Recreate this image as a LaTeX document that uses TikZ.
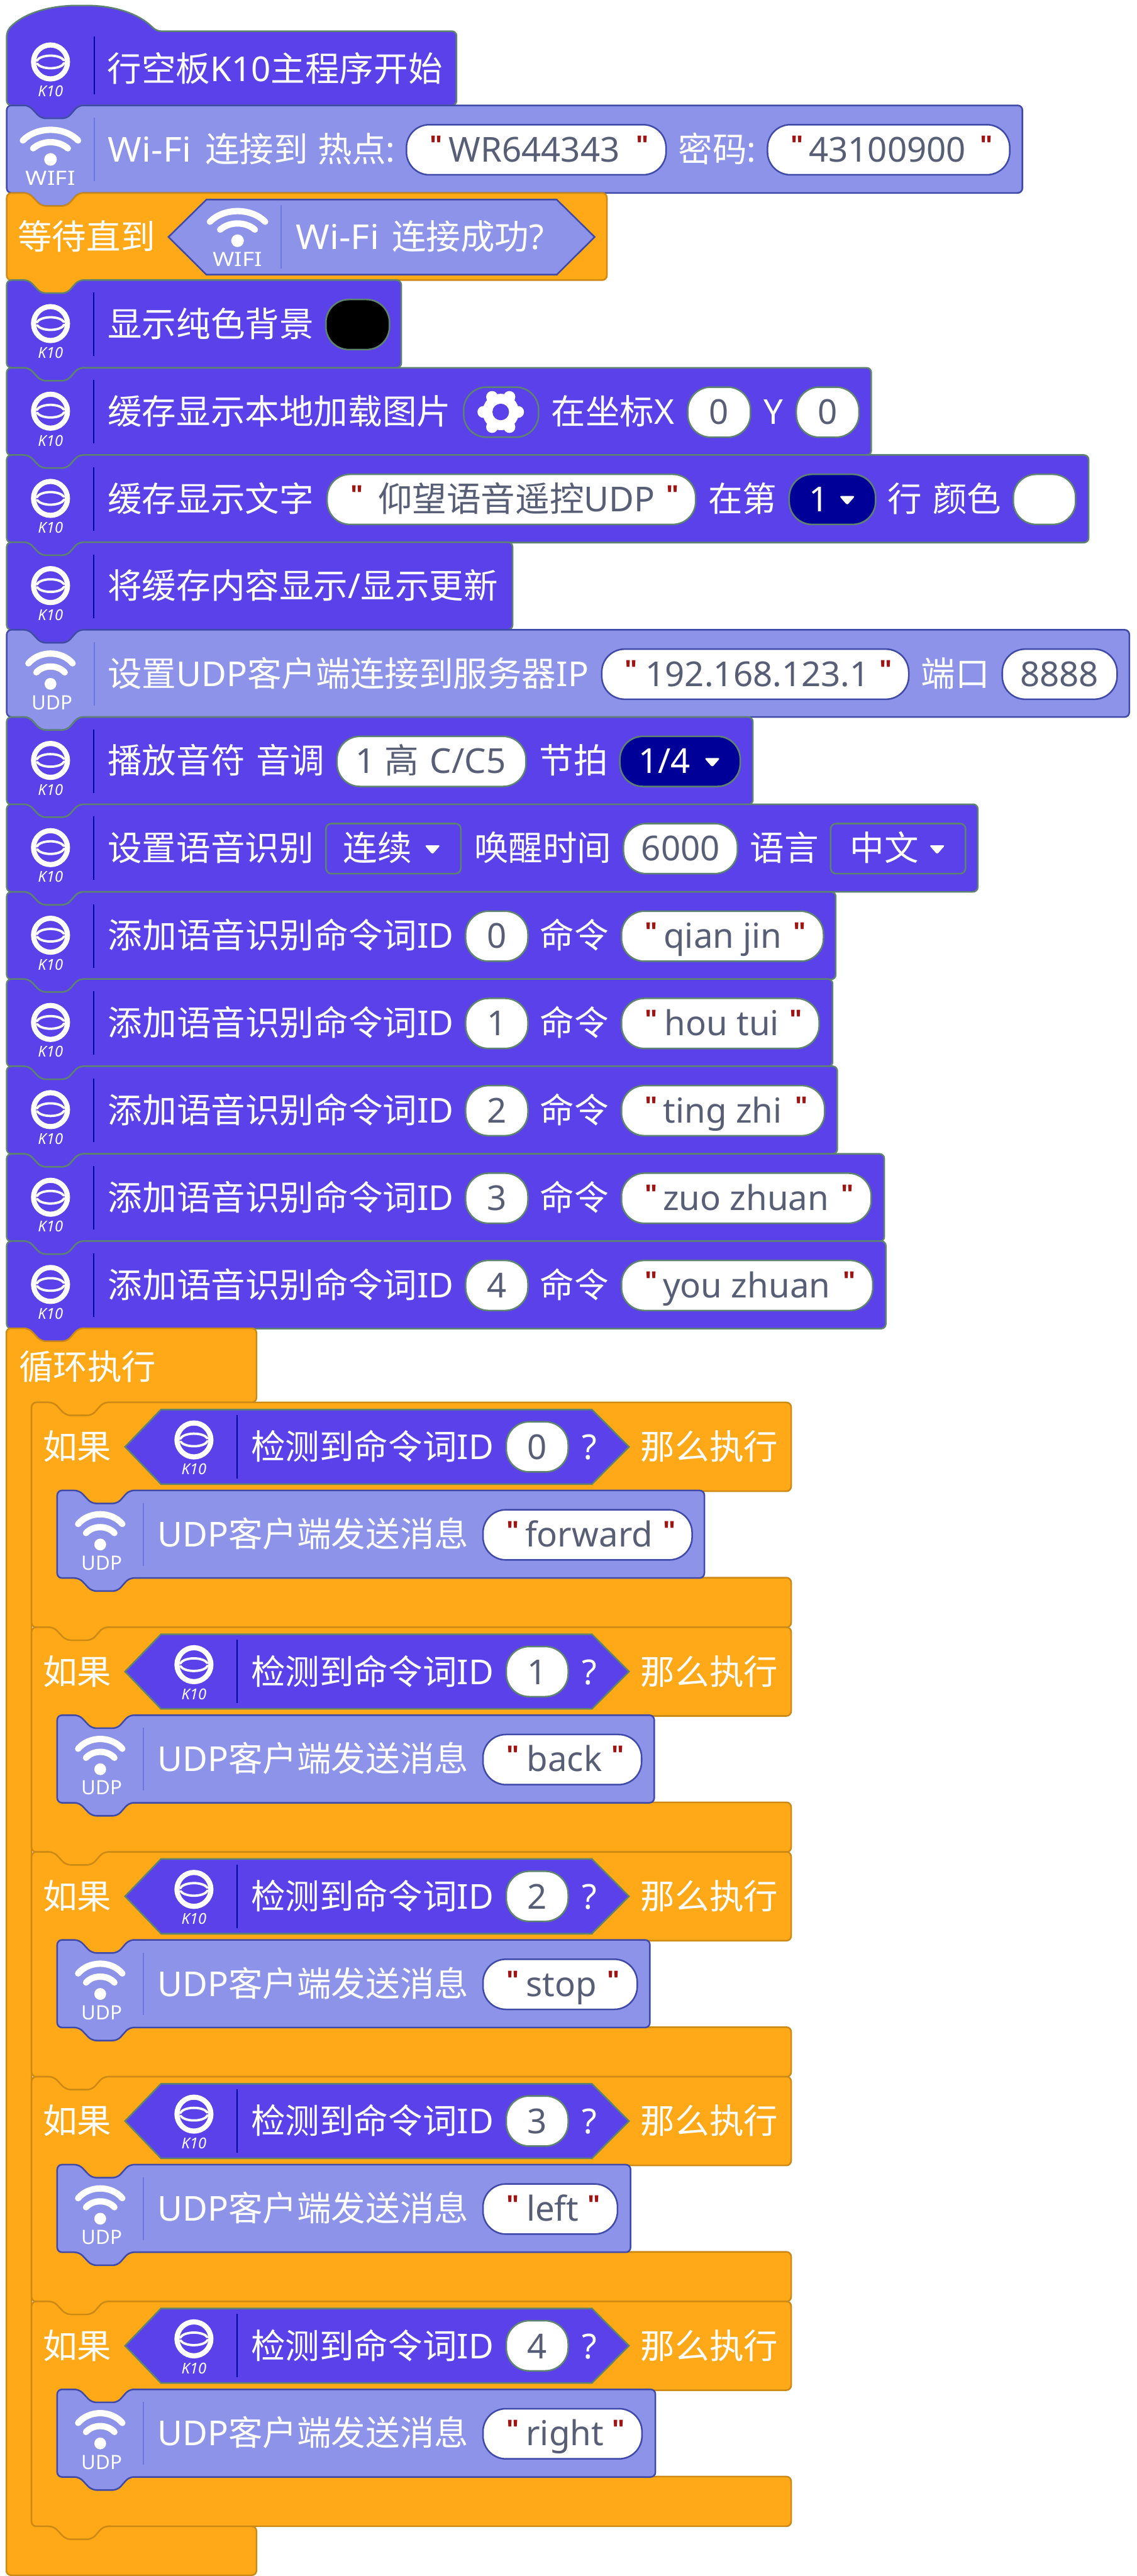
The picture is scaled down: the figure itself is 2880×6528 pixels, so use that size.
\documentclass[tikz,border=0pt]{standalone}
\usepackage{graphicx}
\usepackage{fontspec}
\setmainfont{Noto Sans}
\newfontfamily\cjkf{Noto Sans CJK SC}
\newfontfamily\qfnt{Liberation Sans}
\definecolor{kfill}{HTML}{5B41EA}
\definecolor{kline}{HTML}{5E8470}
\definecolor{ksep}{HTML}{0000A0}
\definecolor{wfill}{HTML}{8C93E8}
\definecolor{wline}{HTML}{3F4AA8}
\definecolor{wsep}{HTML}{6A78E0}
\definecolor{ofill}{HTML}{FFA918}
\definecolor{oline}{HTML}{CC8A14}
\definecolor{navy}{HTML}{000099}
\definecolor{qred}{HTML}{A01414}
\definecolor{vtext}{HTML}{575E75}
\newcommand\bfnt{\fontsize{21.75}{26}\selectfont}
\newcommand\C[1]{{\cjkf #1}}
\newcounter{nn}
\tikzset{
 kblk/.style={draw=kline,fill=kfill,line width=1pt,rounded corners=3pt},
 wblk/.style={draw=wline,fill=wfill,line width=1pt,rounded corners=3pt},
 oblk/.style={draw=oline,fill=ofill,line width=1pt,rounded corners=3pt},
 kfld/.style={draw=kline,fill=white,line width=1pt,rounded corners=14.5pt},
 wfld/.style={draw=wline,fill=white,line width=1pt,rounded corners=14.5pt},
 navyfld/.style={draw=kline,fill=navy,line width=1pt,rounded corners=14.5pt},
 blackfld/.style={draw=kline,fill=black,line width=1pt,rounded corners=14.5pt},
 plainfld/.style={draw=kline,fill=kfill,line width=1pt,rounded corners=14.5pt},
 menufld/.style={draw=kline,fill=kfill,line width=1pt,rounded corners=3.5pt},
 khex/.style={draw=kline,fill=kfill,line width=1pt},
 whex/.style={draw=wline,fill=wfill,line width=1pt},
 txt/.style={anchor=base west,inner sep=0pt,outer sep=0pt,font=\bfnt},
 ctxt/.style={anchor=base,inner sep=0pt,outer sep=0pt,font=\bfnt},
}
\newcommand\tx[4][white]{\stepcounter{nn}\node[txt,text=#1] (n\arabic{nn}) at (#2-1,#3) {#4};}
\newcommand\cx[4][vtext]{\stepcounter{nn}\node[ctxt,text=#1] (n\arabic{nn}) at (#2,#3) {#4};}
\newcommand\qt[2]{\stepcounter{nn}\node[anchor=base west,inner sep=0pt,text=qred,font=\fontsize{17}{20}\selectfont\qfnt\bfseries] (n\arabic{nn}) at (#1-2,#2-18) {"};}
\newcommand\blk[5]{\draw[#5] (#1,#2+60) -- (#1,#2) -- (#1+56,#2) -- (#1+87,#2+33) -- (#1+153,#2+33) -- (#1+182,#2) -- (#3,#2) -- (#3,#4) -- (#1+182,#4) -- (#1+153,#4+33) -- (#1+87,#4+33) -- (#1+56,#4) -- (#1,#4) -- cycle;}
\newcommand\fld[4]{\draw[#4] (#1,#3+49) rectangle (#2,#3+176);}
\newcommand\sepl[4]{\draw[#4,line width=.75pt] (#1,#2) -- (#1,#3);}
\newcommand\kten[2]{%
 \draw[white,line width=3.25pt] (#1,#2+110) circle [radius=43];
 \draw[white,line width=1.5pt,line cap=round] plot[smooth,domain=15:170,samples=8] ({#1+35*cos(\x)},{#2+110-16*sin(\x)});
 \draw[white,line width=1.5pt,line cap=round] plot[smooth,domain=195:350,samples=8] ({#1+35*cos(\x)},{#2+110-16*sin(\x)});
 \stepcounter{nn}\node[ctxt,text=white,font=\fontsize{9.5}{10}\selectfont\bfseries\itshape] (n\arabic{nn}) at (#1,#2+198) {K10};}
\newcommand\wifi[2]{%
 \fill[white] (#1,#2+137) circle [radius=16];
 \draw[white,line width=4pt,line cap=round] (#1-70,#2+89) .. controls (#1-35,#2+53) and (#1+35,#2+53) .. (#1+70,#2+89);
 \draw[white,line width=4pt,line cap=round] (#1-44,#2+109) .. controls (#1-20,#2+88) and (#1+20,#2+88) .. (#1+44,#2+109);
 \stepcounter{nn}\node[ctxt,text=white,font=\fontsize{12.5}{14}\selectfont\bfseries] (n\arabic{nn}) at (#1,#2+202) {\scalebox{1.18}[1]{WIFI}};}
\newcommand\udp[2]{%
 \fill[white] (#1,#2+137) circle [radius=15];
 \draw[white,line width=4pt,line cap=round] (#1-56,#2+85) .. controls (#1-28,#2+52) and (#1+28,#2+52) .. (#1+56,#2+85);
 \draw[white,line width=4pt,line cap=round] (#1-36,#2+108) .. controls (#1-18,#2+88) and (#1+18,#2+88) .. (#1+36,#2+108);
 \stepcounter{nn}\node[ctxt,text=white,font=\fontsize{12.5}{14}\selectfont] (n\arabic{nn}) at (#1+4,#2+202) {UDP};}
\newcommand\ddtri[2]{\fill[white,rounded corners=1.2pt] (#1-20,#2+104) -- (#1+20,#2+104) -- (#1,#2+127) -- cycle;}
\newcommand\kblock[2]{\blk{17}{#1}{#2}{#1+222}{kblk}\kten{128}{#1}\sepl{238}{#1+31}{#1+192}{ksep}}
\newcommand\strf[8]{\fld{#1}{#2}{#3}{#4}\qt{#5}{#3+143}\tx[vtext]{#6+2}{#3+143}{#7}\qt{#8}{#3+143}}
\newcommand\cmdrow[7]{\kblock{#1}{#3}\tx{275}{#1+143}{\C{添加语音识别命令词}ID}\fld{1180}{1338}{#1}{kfld}\cx{1259}{#1+143}{#2}\tx{1370}{#1+143}{\C{命令}}\strf{1575}{#4}{#1}{kfld}{1635}{#5}{#6}{#7}}
\newcommand\ifrow[7]{%
 \draw[oblk] (80,#1+60) -- (80,#1) -- (136,#1) -- (167,#1+33) -- (233,#1+33) -- (262,#1) -- (2005,#1) -- (2005,#1+225) -- (327,#1+225) -- (298,#1+258) -- (232,#1+258) -- (201,#1+225) -- (145,#1+225) -- (145,#1+444) -- (2005,#1+444) -- (2005,#1+570) -- (262,#1+570) -- (233,#1+603) -- (167,#1+603) -- (136,#1+570) -- (80,#1+570) -- cycle;
 \tx{110}{#1+145}{\C{如果}}
 \draw[khex] (317,#1+112.5) -- (408,#1+18) -- (1500,#1+18) -- (1594,#1+112.5) -- (1500,#1+207) -- (408,#1+207) -- cycle;
 \kten{491.5}{#1-15}\sepl{601}{#1+32}{#1+193}{ksep}
 \tx{637}{#1+145}{\C{检测到命令词}ID}
 \fld{1283}{1440}{#1}{kfld}\cx{1361}{#1+145}{#2}
 \tx{1476}{#1+145}{?}
 \tx{1625}{#1+145}{\C{那么执行}}
 \blk{145}{#1+223}{#3}{#1+445}{wblk}
 \udp{254}{#1+223}\sepl{364}{#1+255}{#1+414}{wsep}
 \tx{400}{#1+366}{UDP\C{客户端发送消息}}
 \strf{1224}{#4}{#1+223}{wfld}{1285}{#5}{#6}{#7}}
\begin{document}
\begin{tikzpicture}[x=0.25pt,y=-0.25pt]
\useasboundingbox (0,0) rectangle (2880,6528);
\fill[white] (0,0) rectangle (2880,6528);
\draw[kblk] (17,140) -- (17,79) .. controls (60,32) and (130,14) .. (207,14) .. controls (285,14) and (350,32) .. (396,79) -- (1157,79) -- (1157,267) -- (199,267) -- (170,300) -- (104,300) -- (73,267) -- (17,267) -- cycle;
\kten{128}{47}\sepl{239}{93}{239}{ksep}
\tx{273}{206}{\C{行空板}K10\C{主程序开始}}
\blk{17}{267}{2591}{489}{wblk}
\wifi{128}{267}\sepl{239}{298}{459}{wsep}
\tx{275}{410}{\scalebox{1.06}[1]{Wi-Fi}}\tx{521}{410}{\C{连接到}}\tx{806}{410}{\C{热点}}\tx{978}{410}{:}
\strf{1030}{1688}{267}{wfld}{1091}{1136}{WR644343}{1614}
\tx{1720}{410}{\C{密码}:}
\strf{1945}{2559}{267}{wfld}{2005}{2049}{43100900}{2485}
\blk{17}{489}{1538}{710}{oblk}
\tx{46}{632}{\C{等待直到}}
\draw[whex] (427,600.5) -- (523,506) -- (1411,506) -- (1507,600.5) -- (1411,696) -- (523,696) -- cycle;
\wifi{602}{473}\sepl{713}{520}{681}{wsep}
\tx{751}{632}{\scalebox{1.06}[1]{Wi-Fi}}\tx{994}{632}{\C{连接成功}?}
\kblock{710}{1017}
\tx{274}{853}{\C{显示纯色背景}}
\fld{826}{987}{710}{blackfld}
\kblock{932}{2208}
\tx{274}{1075}{\C{缓存显示本地加载图片}}
\fld{1175}{1365}{932}{plainfld}
\foreach \a in {0,60,...,300}{\fill[white] (1269,1044) ++(\a:44) circle [radius=15];}
\fill[white] (1269,1044) circle [radius=46];
\fill[kfill] (1269,1044) circle [radius=21];
\tx{1398}{1075}{\C{在坐标}X}
\fld{1743}{1902}{932}{kfld}\cx{1822}{1075}{0}
\tx{1936}{1075}{Y}
\fld{2018}{2177}{932}{kfld}\cx{2097}{1075}{0}
\kblock{1153}{2759}
\tx{274}{1296}{\C{缓存显示文字}}
\strf{829}{1763}{1153}{kfld}{889}{957}{\C{仰望语音遥控}UDP}{1690}
\tx{1796}{1296}{\C{在第}}
\fld{2000}{2219}{1153}{navyfld}\tx{2051}{1296}{1}\ddtri{2147}{1153}
\tx{2250}{1296}{\C{行}}\tx{2365}{1296}{\C{颜色}}
\fld{2568}{2726}{1153}{kfld}
\kblock{1374}{1299}
\tx{274}{1517}{\C{将缓存内容显示}/\C{显示更新}}
\blk{17}{1596}{2862}{1817}{wblk}
\udp{128}{1596}\sepl{239}{1627}{1788}{wsep}
\tx{274}{1739}{\C{设置}UDP\C{客户端连接到服务器}IP}
\strf{1525}{2303}{1596}{wfld}{1585}{1635}{192.168.123.1}{2230}
\tx{2335}{1739}{\C{端口}}
\fld{2540}{2831}{1596}{wfld}\cx{2685}{1739}{8888}
\kblock{1817}{1908}
\tx{274}{1960}{\C{播放音符}}\tx{650}{1960}{\C{音调}}
\fld{854}{1333}{1817}{kfld}\tx[vtext]{903}{1960}{1}\tx[vtext]{975}{1960}{\C{高}}\tx[vtext]{1091}{1960}{C/C5}
\tx{1368}{1960}{\C{节拍}}
\fld{1571}{1876}{1817}{navyfld}\tx{1619}{1960}{1/4}\ddtri{1805}{1817}
\kblock{2038}{2478}
\tx{274}{2181}{\C{设置语音识别}}
\fld{826}{1168}{2038}{menufld}\tx{871}{2181}{\C{连续}}\ddtri{1096}{2038}
\tx{1203}{2181}{\C{唤醒时间}}
\fld{1580}{1869}{2038}{kfld}\cx{1725}{2181}{6000}
\tx{1902}{2181}{\C{语言}}
\fld{2105}{2447}{2038}{menufld}\tx{2155}{2181}{\C{中文}}\ddtri{2375}{2038}
\cmdrow{2260}{0}{2118}{2087}{1681}{qian jin}{2011}
\cmdrow{2481}{1}{2110}{2076}{1683}{hou tui}{2002}
\cmdrow{2702}{2}{2122}{2090}{1680}{ting zhi}{2016}
\cmdrow{2924}{3}{2241}{2208}{1679}{zuo zhuan}{2133}
\cmdrow{3145}{4}{2245}{2212}{1679}{you zhuan}{2138}
\draw[oblk] (16,3426) -- (16,3366) -- (73,3366) -- (104,3399) -- (170,3399) -- (199,3366) -- (650,3366) -- (650,3554) -- (262,3554) -- (233,3587) -- (167,3587) -- (136,3554) -- (80,3554) -- (80,6402) -- (650,6402) -- (650,6526) -- (16,6526) -- cycle;
\tx{49}{3496}{\C{循环执行}}
\ifrow{3554}{0}{1785}{1754}{1330}{forward}{1681}
\ifrow{4123.5}{1}{1658}{1626}{1334}{back}{1551}
\ifrow{4693}{2}{1647}{1615}{1332}{stop}{1540}
\ifrow{5262.5}{3}{1598}{1565}{1333}{left}{1491}
\ifrow{5832}{4}{1661}{1627}{1332}{right}{1553}
\end{tikzpicture}
\end{document}
